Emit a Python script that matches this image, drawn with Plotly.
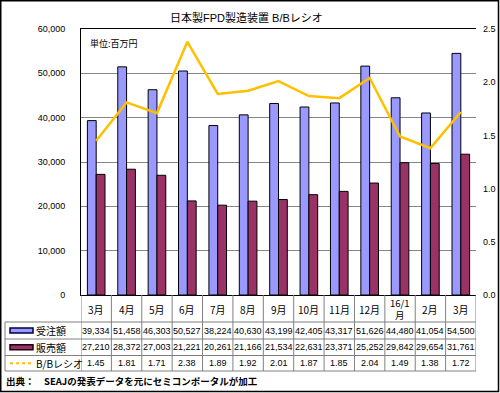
import plotly.graph_objects as go

# ---- data ----
months = ["3月", "4月", "5月", "6月", "7月", "8月", "9月", "10月", "11月", "12月", "16/1<br>月", "2月", "3月"]
orders = [39334, 51458, 46303, 50527, 38224, 40630, 43199, 42405, 43317, 51626, 44480, 41054, 54500]
sales = [27210, 28372, 27003, 21221, 20261, 21166, 21534, 22631, 23371, 25252, 29842, 29654, 31761]
bb_ratio = [1.45, 1.81, 1.71, 2.38, 1.89, 1.92, 2.01, 1.87, 1.85, 2.04, 1.49, 1.38, 1.72]
series_names = ["受注額", "販売額", "B/Bレシオ"]
title_text = "日本製FPD製造装置 B/Bレシオ"
unit_text = "単位:百万円"
source_text = "出典：　SEAJの発表データを元にセミコンポータルが加工"

W, H = 500, 393
BLUE = "#9999FF"
MAROON = "#993366"
ORANGE = "#FFC000"
FONT = "Arial, 'Liberation Sans', 'Noto Sans CJK JP', sans-serif"
CJK = "'Noto Sans CJK JP', Arial, sans-serif"

def px(xp):
    return xp / W

def py(yp):
    return 1 - yp / H

idx = list(range(len(months)))

fig = go.Figure()
fig.add_trace(go.Bar(x=idx, y=orders, name=series_names[0],
                     marker=dict(color=BLUE, line=dict(color="black", width=1))))
fig.add_trace(go.Bar(x=idx, y=sales, name=series_names[1],
                     marker=dict(color=MAROON, line=dict(color="black", width=1))))
fig.add_trace(go.Scatter(x=idx, y=bb_ratio, name=series_names[2], yaxis="y2", mode="lines",
                         line=dict(color=ORANGE, width=2.5)))

PLOT_L, PLOT_R, PLOT_T, PLOT_B = 81, 476, 29, 295
ROW_LINES = [322, 339, 355.5, 371]
TABLE_L = 5
GRID_T = "#808080"

shapes = []
annotations = []

# table vertical lines at category boundaries
for i in range(len(months) + 1):
    shapes.append(dict(type="line", xref="x", yref="paper", x0=i - 0.5, x1=i - 0.5,
                       y0=py(PLOT_B), y1=py(ROW_LINES[-1]), line=dict(color=GRID_T, width=1)))
# left column outer line
shapes.append(dict(type="line", xref="paper", yref="paper", x0=px(TABLE_L), x1=px(TABLE_L),
                   y0=py(ROW_LINES[0]), y1=py(ROW_LINES[-1]), line=dict(color=GRID_T, width=1)))
# horizontal row lines
for yl in ROW_LINES:
    shapes.append(dict(type="line", xref="paper", yref="paper", x0=px(TABLE_L), x1=px(PLOT_R),
                       y0=py(yl), y1=py(yl), line=dict(color=GRID_T, width=1)))

# month header row
hdr_c = (PLOT_B + ROW_LINES[0]) / 2
for i, m in enumerate(months):
    annotations.append(dict(x=i, xref="x", y=py(hdr_c + 0.5), yref="paper", text=m, showarrow=False,
                            xanchor="center", yanchor="middle",
                            font=dict(family=CJK, size=10 if "<br>" not in m else 9.5, color="black")))

rows = [[f"{v:,}" for v in orders], [f"{v:,}" for v in sales], [f"{v:.2f}" for v in bb_ratio]]
for r, vals in enumerate(rows):
    yc = (ROW_LINES[r] + ROW_LINES[r + 1]) / 2
    for i, t in enumerate(vals):
        annotations.append(dict(x=i, xref="x", y=py(yc), yref="paper", text=t, showarrow=False,
                                xanchor="center", yanchor="middle", font=dict(family=FONT, size=9, color="black")))
    # legend label
    annotations.append(dict(x=px(34), xref="paper", y=py(yc), yref="paper", text=series_names[r],
                            showarrow=False, xanchor="left", yanchor="middle",
                            font=dict(family=CJK, size=10, color="black")))

# legend keys
k0 = (ROW_LINES[0] + ROW_LINES[1]) / 2
k1 = (ROW_LINES[1] + ROW_LINES[2]) / 2
k2 = (ROW_LINES[2] + ROW_LINES[3]) / 2
shapes.append(dict(type="rect", xref="paper", yref="paper", x0=px(10), x1=px(33), y0=py(k0 - 2.5), y1=py(k0 + 2.5),
                   fillcolor=BLUE, line=dict(color="#000040", width=1.5)))
shapes.append(dict(type="rect", xref="paper", yref="paper", x0=px(10), x1=px(33), y0=py(k1 - 2.5), y1=py(k1 + 2.5),
                   fillcolor=MAROON, line=dict(color="#200010", width=1.5)))
shapes.append(dict(type="line", xref="paper", yref="paper", x0=px(10), x1=px(33), y0=py(k2), y1=py(k2),
                   line=dict(color=ORANGE, width=2, dash="dot")))

# outer border
shapes.append(dict(type="rect", xref="paper", yref="paper", x0=px(0.75), x1=px(498.5), y0=py(0.75), y1=py(391.5),
                   line=dict(color="black", width=1.5), fillcolor="rgba(0,0,0,0)"))

# title, unit, source
annotations.append(dict(x=px(246), xref="paper", y=py(17), yref="paper", text=title_text, showarrow=False,
                        xanchor="center", yanchor="middle", font=dict(family=FONT, size=11, color="black")))
annotations.append(dict(x=px(88), xref="paper", y=py(43), yref="paper", text=unit_text, showarrow=False,
                        xanchor="left", yanchor="middle", font=dict(family=CJK, size=9, color="black")))
annotations.append(dict(x=px(4), xref="paper", y=py(381), yref="paper", text="<b>" + source_text + "</b>",
                        showarrow=False, xanchor="left", yanchor="middle",
                        font=dict(family=CJK, size=9.5, color="black")))

fig.update_layout(
    width=W, height=H, autosize=False,
    margin=dict(l=0, r=0, t=0, b=0, pad=0),
    paper_bgcolor="white", plot_bgcolor="white",
    showlegend=False,
    barmode="group", bargap=0.42, bargroupgap=0,
    font=dict(family=FONT, size=9, color="black"),
    xaxis=dict(domain=[px(PLOT_L), px(PLOT_R)], range=[-0.5, len(months) - 0.5],
               showticklabels=False, ticks="", showgrid=False, zeroline=False, automargin=False,
               showline=True, mirror=True, linecolor="black", linewidth=1, fixedrange=True),
    yaxis=dict(domain=[py(PLOT_B), py(PLOT_T)], range=[0, 60000], dtick=10000, tickformat=",d",
               showgrid=True, gridcolor="#868686", gridwidth=1, zeroline=False, automargin=False,
               showline=True, linecolor="black", linewidth=1, ticks="", ticklabelstandoff=13,
               tickfont=dict(family=FONT, size=9, color="black"), fixedrange=True),
    yaxis2=dict(overlaying="y", side="right", anchor="x", range=[0, 2.5], dtick=0.5, tickformat=".1f",
                showgrid=False, zeroline=False, showline=False, ticks="", ticklabelstandoff=6,
                automargin=False,
                tickfont=dict(family=FONT, size=9, color="black"), fixedrange=True),
    shapes=shapes,
    annotations=annotations,
)

fig.write_html("out.html", config={"displayModeBar": False},
               post_script="document.body.style.margin='0px';document.body.style.overflow='hidden';")
